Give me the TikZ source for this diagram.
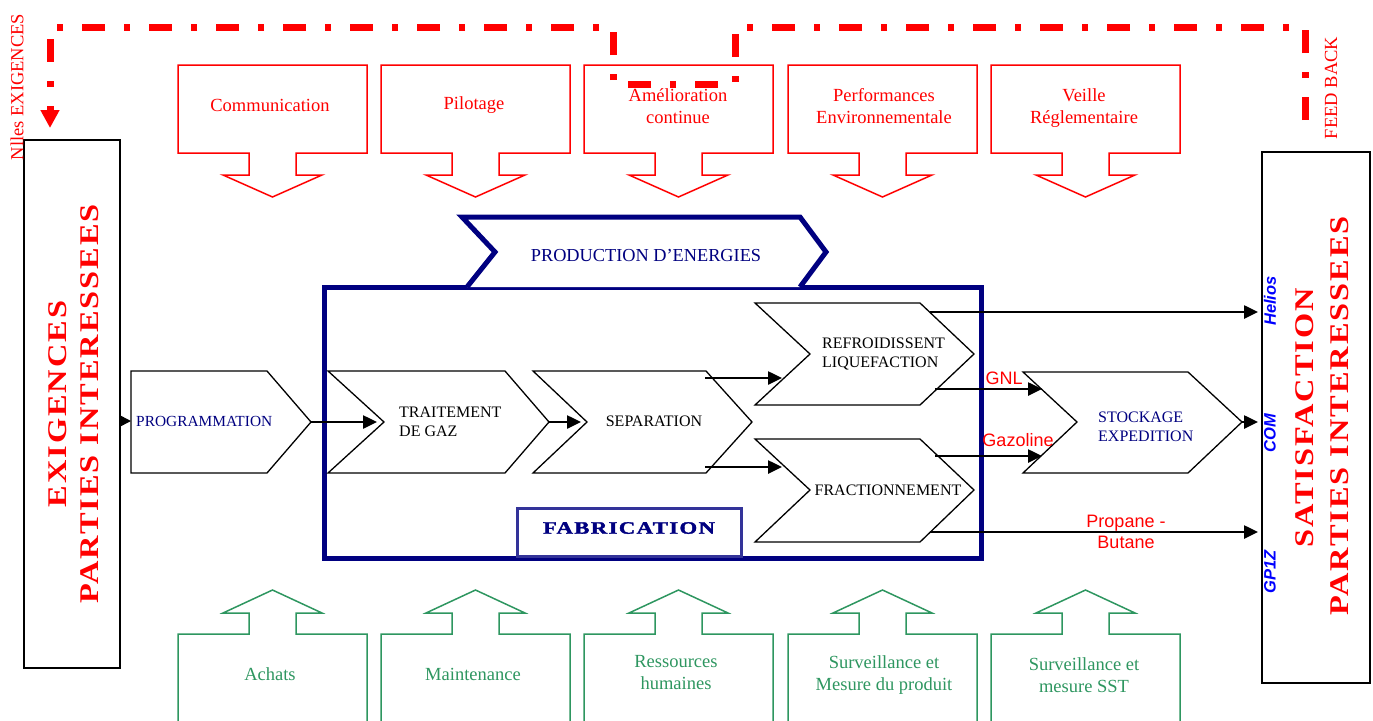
\documentclass[tikz,border=0pt]{standalone}
\usepackage{graphicx}
\usepackage{fontspec}
\setmainfont{Liberation Serif}
\newfontfamily\sansf{Liberation Sans}
\newfontfamily\widebf[LetterSpace=6]{Liberation Serif}
\newfontfamily\heavybf[LetterSpace=6,FakeBold=1.6]{Liberation Serif}
\usetikzlibrary{arrows.meta}

\definecolor{fbred}{RGB}{255,0,0}
\definecolor{navy}{RGB}{0,0,128}
\definecolor{fabblue}{RGB}{51,51,153}
\definecolor{supgreen}{RGB}{46,150,96}
\definecolor{labblue}{RGB}{0,0,255}

\newcommand\fsz[2]{\fontsize{#1}{#2}\selectfont}

\tikzset{
  txt/.style={inner sep=0pt, align=center},
  mgmtbox/.style={draw=fbred, line width=1.5pt, fill=white},
  mgmttext/.style={txt, text=fbred, font=\fsz{18.5}{22}},
  supbox/.style={draw=supgreen, line width=1.5pt},
  suptext/.style={txt, text=supgreen, font=\fsz{18.5}{22}},
  chevron/.style={draw=black, line width=1.3pt, fill=white, line join=miter},
  chevtext/.style={txt, text=black, font=\fsz{16}{19.5}},
  flow/.style={draw=black, line width=2.5pt, -{Triangle[length=14pt,width=13pt]}},
  feedback/.style={draw=fbred, line width=7pt, dash pattern=on 23pt off 19pt on 6pt off 19pt,
                   -{Triangle[length=18pt,width=18pt]}},
  sidebox/.style={draw=black, line width=2pt},
  bigred/.style={txt, text=fbred, rotate=90},
  outlbl/.style={txt, text=labblue, rotate=90, font=\sansf\bfseries\itshape\fsz{16.5}{18}},
  flowlbl/.style={txt, text=fbred, font=\sansf\fsz{18}{21.5}}
}

\newcommand\bigtitle[1]{\scalebox{1.2}[1]{\widebf\bfseries\fsz{27}{30}#1}}

\begin{document}
\begin{tikzpicture}[x=1pt,y=-1pt]
\useasboundingbox (0,0) rectangle (1373,720);

% ---- stakeholder boxes at both ends
\draw[sidebox] (24,140) rectangle (120,668);
\coordinate (exig-out) at (120,421);
\node[bigred] (exig) at (58,404) {\bigtitle{EXIGENCES}};
\node[bigred] (exigpi) at (90,404) {\bigtitle{PARTIES INTERESSEES}};

\draw[sidebox] (1262,152) rectangle (1370,683);
\coordinate (sat-helios) at (1258,312);
\coordinate (sat-com) at (1258,422);
\coordinate (sat-gp) at (1258,532);
\node[bigred] (satis) at (1305,418) {\bigtitle{SATISFACTION}};
\node[bigred] (satpi) at (1340,416) {\bigtitle{PARTIES INTERESSEES}};
\node[outlbl] (helios) at (1270,301) {Helios};
\node[outlbl] (com) at (1270,433) {COM};
\node[outlbl] (gp1z) at (1270,572) {GP1Z};

% ---- management processes (top)
\foreach \L in {178,381,584,788,991}{
  \draw[mgmtbox] (\L,65) -- ++(189,0) -- ++(0,88) -- ++(-71,0) -- ++(0,22) -- ++(26,0)
     -- (\L+94.5,197) -- (\L+45,175) -- ++(26,0) -- ++(0,-22) -- (\L,153) -- cycle;
}
\node[mgmttext] (communication) at (270,105) {Communication};
\node[mgmttext] (pilotage) at (474,105) {Pilotage};
\node[mgmttext] (amelioration) at (678,106) {Amélioration\\continue};
\node[mgmttext] (performances) at (884,106) {Performances\\Environnementale};
\node[mgmttext] (veille) at (1084,108) {Veille\\Réglementaire};

% ---- support processes (bottom)
\foreach \L in {178,381,584,788,991}{
  \draw[supbox] (\L,724) -- (\L,634) -- ++(71,0) -- ++(0,-21) -- ++(-26,0)
     -- (\L+94.5,590) -- (\L+144,613) -- ++(-26,0) -- ++(0,21) -- (\L+189,634) -- (\L+189,724);
}
\node[suptext] (achats) at (270,674) {Achats};
\node[suptext] (maintenance) at (473,674) {Maintenance};
\node[suptext] (ressources) at (676,673) {Ressources\\humaines};
\node[suptext] (survprod) at (884,675) {Surveillance et\\Mesure du produit};
\node[suptext] (survsst) at (1084,675) {Surveillance et\\mesure SST};

% ---- feedback loop
\coordinate (fb-start) at (1305,120);
\coordinate (fb-end) at (50,128);
\draw[feedback] (fb-start) -- (1305,27) -- (735,27) -- (735,84) -- (613,84)
   -- (613,27) -- (50,27) -- (fb-end);
\node[txt, text=fbred, rotate=90, font=\fsz{18.5}{22}] (nlles) at (17,87) {Nlles EXIGENCES};
\node[txt, text=fbred, rotate=90, font=\fsz{18.5}{22}] (feedbk) at (1331,88) {FEED BACK};

% ---- production frame
\draw[draw=navy, line width=5pt, line join=miter] (324,287) rectangle (981,558);
\draw[draw=navy, line width=5pt, line join=miter, fill=white]
  (467,287) -- (495,252) -- (462,217) -- (800,217) -- (826,252) -- (800,287);
\node[txt, text=navy, font=\fsz{18.3}{22}] (prodener) at (646,256) {PRODUCTION D’ENERGIES};
\draw[draw=fabblue, line width=3pt, fill=white] (517,508) rectangle (741,556);
\node[txt, text=navy] (fabrication) at (629,528)
  {\scalebox{1.3}[1]{\heavybf\bfseries\fsz{17.5}{20}FABRICATION}};

% ---- process chain
\draw[chevron] (131,371) -- (267,371) -- (311,422) -- (267,473) -- (131,473) -- cycle;
\coordinate (prog-in) at (131,421);
\coordinate (prog-out) at (311,422);
\node[chevtext, text=navy, anchor=west, font=\fsz{15.4}{19}] (programmation) at (136,421) {PROGRAMMATION};

\draw[chevron] (328,371) -- (505,371) -- (549,422) -- (505,473) -- (328,473) -- (384,422) -- cycle;
\coordinate (trait-in) at (377,422);
\coordinate (trait-out) at (549,422);
\node[chevtext, anchor=west, align=left] (traitement) at (399,422) {TRAITEMENT\\DE GAZ};

\draw[chevron] (533,371) -- (706,371) -- (752,422) -- (706,473) -- (533,473) -- (587,422) -- cycle;
\coordinate (sep-in) at (581,422);
\coordinate (sep-outa) at (705,378);
\coordinate (sep-outb) at (705,467);
\node[chevtext] (separation) at (654,421) {SEPARATION};

\draw[chevron] (755,303) -- (920,303) -- (974,354) -- (920,405) -- (755,405) -- (810,354) -- cycle;
\coordinate (refr-in) at (782,378);
\coordinate (refr-outa) at (930,312);
\coordinate (refr-outb) at (935,389);
\node[chevtext, anchor=west, align=left] (refroid) at (822,354) {REFROIDISSENT\\LIQUEFACTION};

\draw[chevron] (755,439) -- (920,439) -- (974,490) -- (920,542) -- (755,542) -- (810,490) -- cycle;
\coordinate (frac-in) at (782,467);
\coordinate (frac-outa) at (935,456);
\coordinate (frac-outb) at (930,532);
\node[chevtext] (fraction) at (888,490) {FRACTIONNEMENT};

\draw[chevron] (1023,372) -- (1188,372) -- (1242,422) -- (1188,473) -- (1023,473) -- (1077,422) -- cycle;
\coordinate (stock-ina) at (1042,389);
\coordinate (stock-inb) at (1042,456);
\coordinate (stock-out) at (1242,422);
\node[chevtext, text=navy, anchor=west, align=left] (stockage) at (1098,427) {STOCKAGE\\EXPEDITION};

% ---- flows
\draw[draw=black, line width=1.5pt, -{Triangle[length=10pt,width=10pt]}] (exig-out) -- (prog-in);
\draw[flow] (prog-out) -- (trait-in);
\draw[flow] (trait-out) -- (sep-in);
\draw[flow] (sep-outa) -- (refr-in);
\draw[flow] (sep-outb) -- (frac-in);
\draw[flow] (refr-outa) -- (sat-helios);
\draw[flow] (refr-outb) -- (stock-ina);
\draw[flow] (frac-outa) -- (stock-inb);
\draw[flow] (frac-outb) -- (sat-gp);
\draw[flow] (stock-out) -- (sat-com);

\node[flowlbl] (gnl) at (1004,378) {GNL};
\node[flowlbl] (gazoline) at (1018,440) {Gazoline};
\node[flowlbl] (propane) at (1126,532) {Propane -\\Butane};
\end{tikzpicture}
\end{document}
